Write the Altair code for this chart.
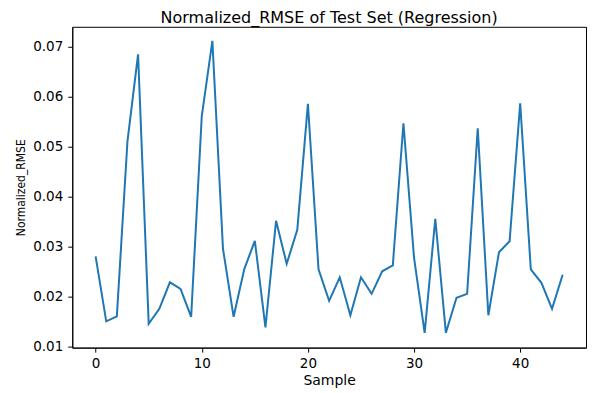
import altair as alt
import pandas as pd

samples = list(range(45))
nrmse = [0.0280, 0.0150, 0.0160, 0.0510, 0.0684, 0.0145, 0.0175, 0.0228, 0.0215, 0.0159,
         0.0560, 0.0711, 0.0295, 0.0159, 0.0254, 0.0311, 0.0138, 0.0351, 0.0265, 0.0333,
         0.0585, 0.0254, 0.0191, 0.0238, 0.0162, 0.0238, 0.0205, 0.0250, 0.0262, 0.0546,
         0.0277, 0.0127, 0.0355, 0.0127, 0.0197, 0.0205, 0.0536, 0.0162, 0.0288, 0.0310,
         0.0586, 0.0254, 0.0227, 0.0175, 0.0243]
x_ticks = [0, 10, 20, 30, 40]
y_ticks = [0.01, 0.02, 0.03, 0.04, 0.05, 0.06, 0.07]

df = pd.DataFrame({"Sample": samples, "Normalized_RMSE": nrmse})

font = "DejaVu Sans"
common = dict(grid=False, domainColor="black", tickColor="black", tickSize=4.5,
              labelColor="black", titleColor="black", labelFontSize=13.5,
              titleFontWeight="normal", labelFont=font)

chart = alt.Chart(df).mark_line(color="#1f77b4", strokeWidth=2).encode(
    x=alt.X("Sample:Q",
            scale=alt.Scale(domain=[-2.2, 46.2], nice=False, zero=False),
            axis=alt.Axis(values=x_ticks, title="Sample", format="d", titleFont=font,
                          titleFontSize=14, labelPadding=4, titlePadding=4, **common)),
    y=alt.Y("Normalized_RMSE:Q",
            scale=alt.Scale(domain=[0.00974, 0.0739], nice=False, zero=False),
            axis=alt.Axis(values=y_ticks, title="Normalized_RMSE", format=".2f",
                          titleFont="DejaVu Sans Condensed",
                          titleFontSize=12, labelPadding=5, titlePadding=5, **common)),
).properties(
    width=514, height=321,
    title=alt.TitleParams("Normalized_RMSE of Test Set (Regression)", fontSize=16,
                          fontWeight="normal", font=font, color="black", offset=1),
    autosize=alt.AutoSizeParams(type="none"),
    padding={"left": 64.3, "top": 18.7, "right": 4, "bottom": 45},
    background="white",
).configure_view(stroke="black", strokeWidth=1)

chart.save("out.html", embed_options={"renderer": "svg", "actions": False})
